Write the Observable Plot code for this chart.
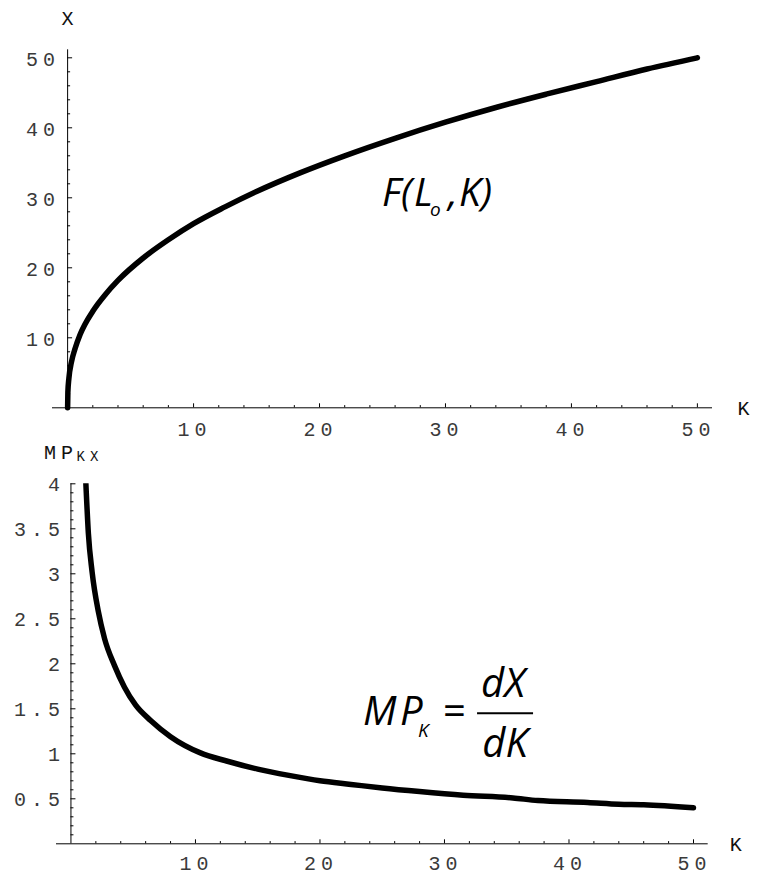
<!DOCTYPE html>
<html>
<head>
<meta charset="utf-8">
<script src="https://cdn.jsdelivr.net/npm/d3@7"></script>
<script src="https://cdn.jsdelivr.net/npm/@observablehq/plot@0.6"></script>
<style>
  html, body { margin: 0; padding: 0; background: #fff; }
  #chart { width: 760px; height: 875px; position: relative; overflow: hidden; }
  #chart svg { display: block; }
</style>
</head>
<body>
<div id="chart"></div>
<script>
// ---------- data ----------
// top panel: X = F(Lo, K)
const kTop = [0, 0.02, 0.1, 0.3, 0.6, 1, 2, 3, 4, 6, 8, 10, 12.5, 15, 18.5, 22, 26, 30, 34, 38, 42, 46, 50];
const xTop = [0, 2.2, 4.2, 6.5, 8.5, 10.5, 13.8, 16.2, 18.2, 21.4, 24.0, 26.3, 28.7, 30.9, 33.6, 36.0, 38.5, 40.8, 42.9, 44.8, 46.6, 48.4, 50];
// bottom panel: MP_K = dX/dK
const kBottom = [1.2, 1.4, 1.7, 2.2, 2.7, 3.5, 4.3, 5.2, 6.4, 8, 10.4, 12.5, 15, 17.5, 20, 22.5, 25, 28, 31.5, 35.5, 37.5, 41.5, 44, 46, 50];
const mpBottom = [4.0, 3.45, 3.02, 2.58, 2.28, 1.98, 1.74, 1.54, 1.37, 1.19, 1.01, 0.92, 0.83, 0.76, 0.70, 0.66, 0.62, 0.58, 0.54, 0.51, 0.48, 0.46, 0.44, 0.435, 0.40];

// tick labels
const kTickLabels = [10, 20, 30, 40, 50];
const xTickLabels = [10, 20, 30, 40, 50];
const mpTickLabels = [0.5, 1, 1.5, 2, 2.5, 3, 3.5, 4];

// minor ticks
const kMinor = d3.range(2, 50, 2).filter(d => d % 10 !== 0);
const xMinor = d3.range(2, 50, 2).filter(d => d % 10 !== 0);
const mpMinor = d3.range(1, 40).filter(d => d % 5 !== 0).map(d => d / 10);

const topData = kTop.map((k, i) => ({k, x: xTop[i]}));
const bottomData = kBottom.map((k, i) => ({k, mp: mpBottom[i]}));

// ---------- layout ----------
const W = 760;
const mono = "'Courier New', 'Liberation Mono', monospace";
const sans = "'Open Sans', 'Noto Sans', sans-serif";
const LS = 5; // letter spacing of the mono labels
const labFill = "#3a3a3a";

// top panel geometry
const H1 = 452, mL1 = 52, mR1 = 48, mT1 = 48.2, mB1 = 44.7;
const xDom1 = [-1.2, 51.2], yDom1 = [0, 51.3];
const kx1 = (W - mL1 - mR1) / (xDom1[1] - xDom1[0]);
const ky1 = (H1 - mT1 - mB1) / (yDom1[1] - yDom1[0]);

// bottom panel geometry (svg overlaps the top one by OV px)
const OV = 12, TOP2 = 440 - OV;
const H2 = 435 + OV, mL2 = 56, mR2 = 52.3, mT2 = 43.3 + OV, mB2 = 31.7;
const xDom2 = [-1.16, 51.18], yDom2 = [0, 4];
const kx2 = (W - mL2 - mR2) / (xDom2[1] - xDom2[0]);
const ky2 = (H2 - mT2 - mB2) / (yDom2[1] - yDom2[0]);

const txt = {fontFamily: mono, fontSize: 20, fill: labFill};

// ---------- top plot ----------
const topPlot = Plot.plot({
  width: W, height: H1,
  marginLeft: mL1, marginRight: mR1, marginTop: mT1, marginBottom: mB1,
  x: {domain: xDom1, axis: null},
  y: {domain: yDom1, axis: null},
  marks: [
    Plot.ruleY([0], {x1: xDom1[0], x2: xDom1[1], stroke: "#000", strokeWidth: 1}),
    Plot.ruleX([0], {y1: -2 / ky1, y2: 51.14, stroke: "#000", strokeWidth: 1}),
    Plot.ruleX(kTickLabels, {x: d => d, y1: 0, y2: 4 / ky1, stroke: "#000", strokeWidth: 1}),
    Plot.ruleX(kMinor, {x: d => d, y1: 0, y2: 2.2 / ky1, stroke: "#000", strokeWidth: 1}),
    Plot.ruleY(xTickLabels, {y: d => d, x1: 0, x2: 5 / kx1, stroke: "#000", strokeWidth: 1}),
    Plot.ruleY(xMinor, {y: d => d, x1: 0, x2: 3 / kx1, stroke: "#000", strokeWidth: 1}),
    Plot.line(topData, {x: "k", y: "x", stroke: "#000", strokeWidth: 5.5, strokeLinecap: "round", strokeLinejoin: "round", curve: "monotone-x"}),
    Plot.text(kTickLabels, {x: d => d, y: 0, text: d => String(d), dy: 22, dx: 1, ...txt}),
    Plot.text(xTickLabels, {x: 0, y: d => d, text: d => String(d), textAnchor: "end", dx: -7.5, dy: 1.7, ...txt}),
    Plot.text(["X"], {x: 0, y: yDom1[1], text: d => d, dy: -30, dx: LS / 2, ...txt, fill: "#111"}),
    Plot.text(["K"], {x: xDom1[1], y: 0, text: d => d, textAnchor: "start", dx: 25, dy: 0.5, ...txt, fill: "#111"})
  ]
});
d3.select(topPlot).selectAll("text").attr("letter-spacing", LS);
topPlot.style.position = "absolute";
topPlot.style.left = "0px";
topPlot.style.top = "0px";
topPlot.style.background = "#fff";

// ---------- bottom plot ----------
const bottomPlot = Plot.plot({
  width: W, height: H2,
  marginLeft: mL2, marginRight: mR2, marginTop: mT2, marginBottom: mB2,
  x: {domain: xDom2, axis: null},
  y: {domain: yDom2, axis: null},
  marks: [
    Plot.ruleY([0], {x1: xDom2[0], x2: xDom2[1], stroke: "#000", strokeWidth: 1}),
    Plot.ruleX([0], {y1: 0, y2: 4, stroke: "#000", strokeWidth: 1}),
    Plot.ruleX(kTickLabels, {x: d => d, y1: 0, y2: 4 / ky2, stroke: "#000", strokeWidth: 1}),
    Plot.ruleX(kMinor, {x: d => d, y1: 0, y2: 2.2 / ky2, stroke: "#000", strokeWidth: 1}),
    Plot.ruleY(mpTickLabels, {y: d => d, x1: 0, x2: 5 / kx2, stroke: "#000", strokeWidth: 1}),
    Plot.ruleY(mpMinor, {y: d => d, x1: 0, x2: 3 / kx2, stroke: "#000", strokeWidth: 1}),
    Plot.line(bottomData, {x: "k", y: "mp", stroke: "#000", strokeWidth: 5.5, strokeLinecap: "round", strokeLinejoin: "round", curve: "monotone-x", clip: true}),
    Plot.text(kTickLabels, {x: d => d, y: 0, text: d => String(d), dy: 19.5, dx: 1, ...txt}),
    Plot.text(mpTickLabels, {x: 0, y: d => d, text: d => String(d), textAnchor: "end", dx: -6, dy: 1.2, ...txt}),
    Plot.text(["MP"], {x: 0, y: yDom2[1], text: d => d, textAnchor: "start", dx: -27, dy: -31, ...txt, fill: "#111"}),
    Plot.text(["KX"], {x: 0, y: yDom2[1], text: d => d, textAnchor: "start", dx: 5.6, dy: -27, ...txt, fontSize: 14, fill: "#111"}),
    Plot.text(["K"], {x: xDom2[1], y: 0, text: d => d, textAnchor: "start", dx: 21.5, dy: 0.5, ...txt, fill: "#111"})
  ]
});
d3.select(bottomPlot).selectAll("text").attr("letter-spacing", LS);
bottomPlot.style.position = "absolute";
bottomPlot.style.left = "0px";
bottomPlot.style.top = TOP2 + "px";
bottomPlot.style.background = "transparent";

// ---------- formula annotations ----------
{
  const sx = topPlot.scale("x"), sy = topPlot.scale("y");
  const fx = sx.apply(25), fy = sy.apply(28.7);
  const t = d3.select(topPlot).append("text")
    .attr("x", fx).attr("y", fy).attr("text-anchor", "start")
    .attr("font-family", sans).attr("font-style", "italic")
    .attr("font-size", 39).attr("fill", "#000").attr("letter-spacing", 0);
  const parts = [
    {s: "F", dx: 0}, {s: "(", dx: 19}, {s: "L", dx: 32},
    {s: "o", dx: 48, sub: true}, {s: ",", dx: 66}, {s: "K", dx: 77}, {s: ")", dx: 99}
  ];
  for (const p of parts) {
    const ts = t.append("tspan").attr("x", fx + p.dx).attr("y", p.sub ? fy + 10 : fy).text(p.s);
    if (p.sub) ts.attr("font-size", 19);
  }
}
{
  const sx = bottomPlot.scale("x"), sy = bottomPlot.scale("y");
  const ax = sx.apply(23.5), ay = sy.apply(1.314);
  const g = d3.select(bottomPlot).append("g")
    .attr("font-family", sans).attr("fill", "#000").attr("letter-spacing", 0).attr("text-anchor", "start");
  g.append("text").attr("x", ax).attr("y", ay).attr("font-size", 40).attr("font-style", "italic").text("M");
  g.append("text").attr("x", ax + 37).attr("y", ay).attr("font-size", 40).attr("font-style", "italic").text("P");
  g.append("text").attr("x", ax + 55).attr("y", ay + 12).attr("font-size", 19).attr("font-style", "italic").text("K");
  g.append("text").attr("x", ax + 80).attr("y", ay).attr("font-size", 40).text("=");
  g.append("line").attr("x1", ax + 114).attr("x2", ax + 170).attr("y1", ay - 11.7).attr("y2", ay - 11.7)
    .attr("stroke", "#000").attr("stroke-width", 2);
  g.append("text").attr("x", ax + 140).attr("y", ay - 28.3).attr("text-anchor", "middle").attr("font-size", 40).attr("font-style", "italic").text("dX");
  g.append("text").attr("x", ax + 142).attr("y", ay + 32).attr("text-anchor", "middle").attr("font-size", 40).attr("font-style", "italic").text("dK");
}

document.getElementById("chart").append(topPlot, bottomPlot);
</script>
</body>
</html>
